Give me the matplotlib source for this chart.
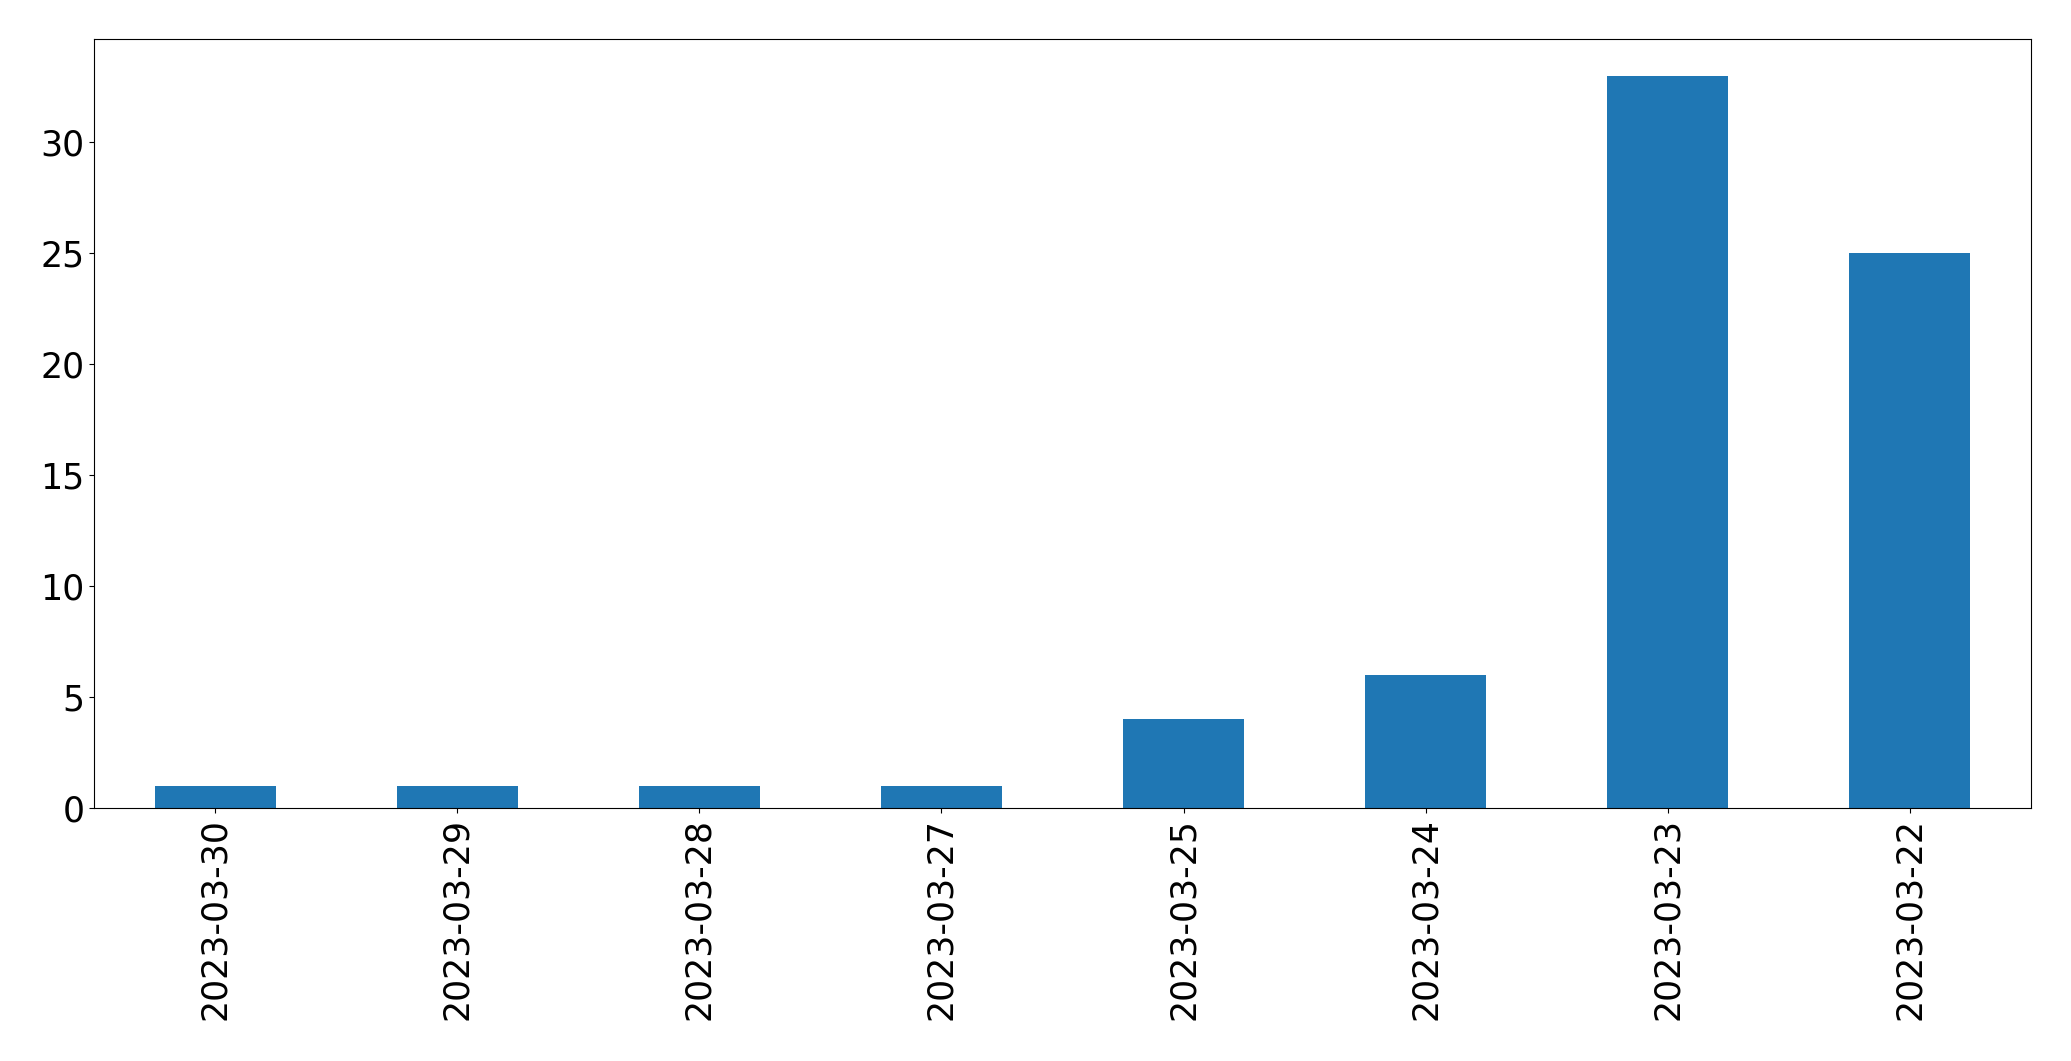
import matplotlib
matplotlib.use("agg")
import matplotlib.pyplot as plt
import pandas as pd

dates = ["2023-03-30", "2023-03-29", "2023-03-28", "2023-03-27",
         "2023-03-25", "2023-03-24", "2023-03-23", "2023-03-22"]
counts = [1, 1, 1, 1, 4, 6, 33, 25]

series = pd.Series(counts, index=dates)

fig, ax = plt.subplots(figsize=(20.71, 10.61), dpi=100)
series.plot(kind="bar", ax=ax, color="#1f77b4", fontsize=25)
plt.subplots_adjust(left=0.0454, right=0.9807, top=0.963, bottom=0.2385)

plt.savefig("out.png")
plt.close()
